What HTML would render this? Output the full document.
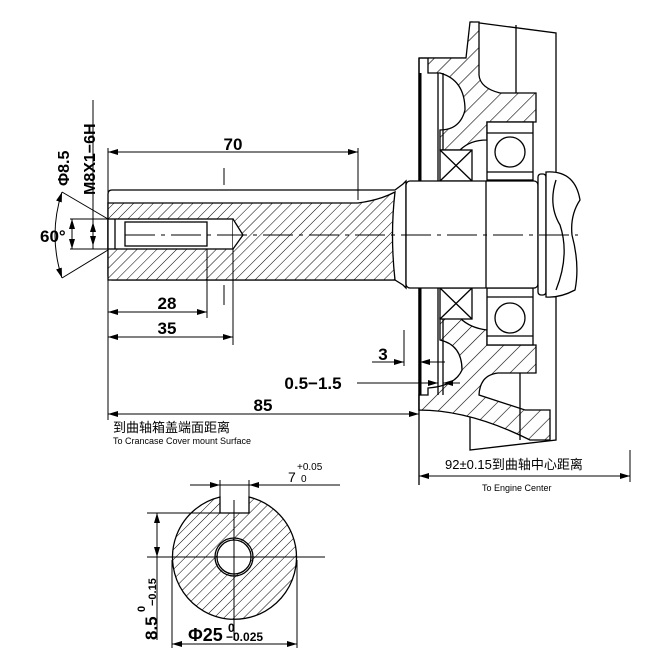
<!DOCTYPE html>
<html><head><meta charset="utf-8"><style>
html,body{margin:0;padding:0;background:#fff}
svg{display:block}
text{font-family:"Liberation Sans","Noto Sans CJK SC",sans-serif;fill:#000}
</style></head><body>
<svg width="670" height="670" viewBox="0 0 670 670" xmlns="http://www.w3.org/2000/svg">
<defs>
<pattern id="h" patternUnits="userSpaceOnUse" width="7" height="7" patternTransform="rotate(45)">
<rect width="7" height="7" fill="#fff"/><line x1="0" y1="0" x2="0" y2="7" stroke="#000" stroke-width="1"/>
</pattern>
<pattern id="h2" patternUnits="userSpaceOnUse" width="12" height="12" patternTransform="rotate(45)">
<rect width="12" height="12" fill="#fff"/><line x1="0" y1="0" x2="0" y2="12" stroke="#000" stroke-width="1.2"/>
</pattern>
<marker id="a" viewBox="0 0 10 6" refX="10" refY="3" markerWidth="10" markerHeight="6" orient="auto-start-reverse" markerUnits="userSpaceOnUse"><path d="M0,0L10,3L0,6z" fill="#000"/></marker>
</defs>
<g stroke="#000" fill="none" stroke-width="1.3">
<!-- cover -->
<path d="M419,58 L466,58 L472,50 L472,22 L556,33 L556,440 L470,450 L470,410 L419,410Z" fill="#fff"/>
<path d="M419,58 L466,58 L470,22 L479,22 L479,75 Q480,88 500,93 L536,93 L536,122 L487,122 L487,140 Q470,140 460,150 L440,150 L440,130 Q460,130 465,110 Q465,80 440,73 L428,73 L428,58Z" fill="url(#h2)"/>
<path d="M440,318 L460,318 Q470,328 487,330 L487,345 L536,345 L536,373 L498,373 Q480,375 479,395 L525,410 L550,410 L550,440 L530,440 Q470,410 419,410 L419,395 L428,395 L428,388 Q455,386 462,370 Q462,345 440,340Z" fill="url(#h2)"/>
<line x1="438" y1="73" x2="438" y2="395"/><line x1="443" y1="73" x2="443" y2="150"/><line x1="443" y1="319" x2="443" y2="395"/>
<line x1="516" y1="25" x2="516" y2="93"/><line x1="520" y1="373" x2="520" y2="440"/>
<rect x="487" y="122" width="46" height="58" fill="#fff"/>
<rect x="487" y="288" width="46" height="57" fill="#fff"/>
<circle cx="510" cy="152" r="15"/><circle cx="510" cy="318" r="15"/>
<line x1="487" y1="133" x2="533" y2="133"/><line x1="487" y1="172" x2="533" y2="172"/>
<line x1="487" y1="297" x2="533" y2="297"/><line x1="487" y1="336" x2="533" y2="336"/>
<rect x="440" y="150" width="32" height="31" fill="#fff"/><path d="M440,150L472,181M472,150L440,181"/>
<rect x="440" y="288" width="32" height="31" fill="#fff"/><path d="M440,288L472,319M472,288L440,319"/>
<line x1="420" y1="73" x2="420" y2="395" stroke-width="3"/>
<!-- shaft -->
<path d="M112,190 L395,190 L403,184 L406,181 L406,288 L403,285 L395,280 L112,280 Q108,280 108,276 L108,194 Q108,190 112,190Z" fill="#fff"/>
<path d="M108,203 L358,203 Q380,200 395,192 Q390,235 395,280 L108,280Z" fill="url(#h)"/>
<rect x="108" y="219" width="125" height="30" fill="#fff"/>
<path d="M233,219 L243,235 L233,249" fill="#fff"/>
<rect x="125" y="222" width="82" height="24" fill="#fff"/>
<line x1="115" y1="219" x2="115" y2="249"/>
<!-- large shaft -->
<rect x="406" y="181" width="132" height="107" rx="4" fill="#fff"/>
<line x1="486" y1="181" x2="486" y2="288"/>
<rect x="538" y="174" width="8" height="121" rx="3" fill="#fff"/>
<path d="M546,172 Q575,170 580,200 Q570,215 572,235 Q580,265 575,290 Q560,298 546,297Z" fill="#fff"/>
<path d="M556,180 Q548,205 560,225 Q570,255 556,290"/>
<line x1="419" y1="58" x2="419" y2="181"/><line x1="419" y1="288" x2="419" y2="485"/>
<!-- center lines -->
<path d="M125,235 H578" stroke-width="1" stroke-dasharray="30,6,4,6"/>
<!-- dims -->
<g stroke-width="1">
<line x1="108" y1="152" x2="358" y2="152" marker-start="url(#a)" marker-end="url(#a)"/>
<line x1="358" y1="148" x2="358" y2="200"/>
<line x1="108" y1="148" x2="108" y2="420"/>
<line x1="224" y1="168" x2="224" y2="185"/><line x1="224" y1="285" x2="224" y2="305"/>
<line x1="207" y1="249" x2="207" y2="318"/><line x1="233" y1="249" x2="233" y2="345"/>
<line x1="108" y1="312" x2="207" y2="312" marker-start="url(#a)" marker-end="url(#a)"/>
<line x1="108" y1="337" x2="233" y2="337" marker-start="url(#a)" marker-end="url(#a)"/>
<line x1="62" y1="192" x2="108" y2="219"/><line x1="62" y1="278" x2="108" y2="250"/>
<path d="M62,192 Q48,235 62,278" marker-start="url(#a)" marker-end="url(#a)"/>
<line x1="70" y1="219" x2="108" y2="219"/><line x1="70" y1="249" x2="108" y2="249"/>
<line x1="93" y1="100" x2="93" y2="249"/>
<line x1="72" y1="219" x2="72" y2="249" marker-start="url(#a)" marker-end="url(#a)"/>
<line x1="93" y1="222" x2="93" y2="246" marker-start="url(#a)" marker-end="url(#a)"/>
<line x1="108" y1="414" x2="419" y2="414" marker-start="url(#a)" marker-end="url(#a)"/>
<line x1="404" y1="330" x2="404" y2="366"/>
<line x1="372" y1="362" x2="404" y2="362" marker-end="url(#a)"/>
<line x1="445" y1="362" x2="420" y2="362" marker-end="url(#a)"/>
<line x1="357" y1="383" x2="438" y2="383" marker-end="url(#a)"/>
<line x1="460" y1="383" x2="443" y2="383" marker-end="url(#a)"/>
<line x1="419" y1="476" x2="630" y2="476" marker-start="url(#a)" marker-end="url(#a)"/>
<line x1="630" y1="450" x2="630" y2="482"/>
</g>
<!-- section -->
<path d="M220,497 A62,62 0 1 0 249,497 L249,513 L220,513Z" fill="url(#h)"/>
<circle cx="234" cy="557" r="17" fill="#fff"/><circle cx="234" cy="557" r="19"/>
<g stroke-width="1">
<line x1="147" y1="557" x2="325" y2="557"/><line x1="234" y1="500" x2="234" y2="640"/>
<line x1="190" y1="485" x2="340" y2="485"/>
<line x1="200" y1="485" x2="220" y2="485" marker-end="url(#a)"/><line x1="268" y1="485" x2="249" y2="485" marker-end="url(#a)"/>
<line x1="220" y1="480" x2="220" y2="513"/><line x1="249" y1="480" x2="249" y2="513"/>
<line x1="147" y1="513" x2="220" y2="513"/>
<line x1="157" y1="513" x2="157" y2="557" marker-start="url(#a)" marker-end="url(#a)"/>
<line x1="157" y1="557" x2="157" y2="640"/>
<line x1="172" y1="560" x2="172" y2="648"/><line x1="297" y1="560" x2="297" y2="648"/>
<line x1="172" y1="644" x2="297" y2="644" marker-start="url(#a)" marker-end="url(#a)"/>
</g>
</g>
<!-- text -->
<g font-weight="bold">
<text x="233" y="150" font-size="17" text-anchor="middle">70</text>
<text x="167" y="309" font-size="17" text-anchor="middle">28</text>
<text x="167" y="334" font-size="17" text-anchor="middle">35</text>
<text x="263" y="411" font-size="17" text-anchor="middle">85</text>
<text x="383" y="360" font-size="17" text-anchor="middle">3</text>
<text x="313" y="389" font-size="17" text-anchor="middle">0.5−1.5</text>
<text x="40" y="242" font-size="17">60°</text>
<text transform="translate(69,186) rotate(-90)" font-size="16">Φ8.5</text>
<text transform="translate(95,195) rotate(-90)" font-size="16">M8X1−6H</text>
<text x="188" y="641" font-size="18">Φ25</text>
<text x="228" y="632" font-size="12">0</text>
<text x="226" y="641" font-size="12">−0.025</text>
<text transform="translate(157,640) rotate(-90)" font-size="17">8.5</text>
<text transform="translate(145,612) rotate(-90)" font-size="11">0</text>
<text transform="translate(156,606) rotate(-90)" font-size="11">−0.15</text>
</g>
<text x="288" y="482" font-size="14">7</text>
<text x="297" y="470" font-size="10">+0.05</text>
<text x="301" y="482" font-size="10">0</text>
<text x="113" y="432" font-size="13">到曲轴箱盖端面距离</text>
<text x="113" y="444" font-size="9">To Crancase Cover mount Surface</text>
<text x="445" y="469" font-size="13">92±0.15到曲轴中心距离</text>
<text x="482" y="491" font-size="9">To Engine Center</text>
</svg>
</body></html>
